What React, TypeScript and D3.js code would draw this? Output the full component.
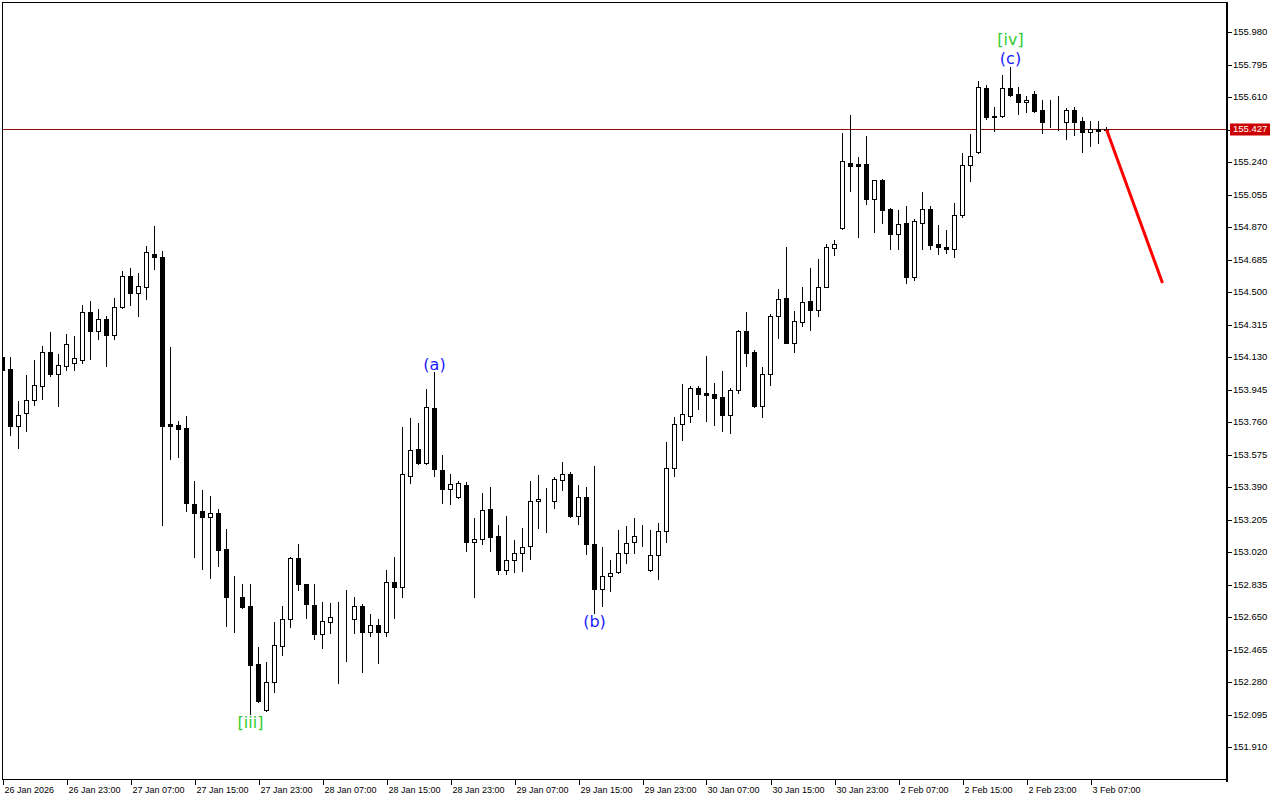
import React from "react";
import * as d3 from "d3";

const open = [
  154.132, 154.064, 153.741, 153.815, 153.887, 153.968, 154.159, 154.037, 154.082, 154.099,
  154.113, 154.386, 154.282, 154.346, 154.259, 154.415, 154.593, 154.498, 154.529, 154.718,
  154.701, 153.751, 153.745, 153.728, 153.295, 153.257, 153.223, 153.244, 153.039, 152.766,
  152.764, 152.715, 152.384, 152.121, 152.280, 152.488, 152.639, 152.986, 152.838, 152.719,
  152.557, 152.625, 152.642, 152.642, 152.639, 152.713, 152.568, 152.605, 152.568, 152.849,
  152.824, 153.456, 153.608, 153.527, 153.840, 153.489, 153.379, 153.333, 153.403, 153.081,
  153.094, 153.265, 153.113, 152.921, 152.975, 153.015, 153.054, 153.310, 153.320, 153.310,
  153.430, 153.464, 153.225, 153.333, 153.066, 152.810, 152.884, 152.906, 153.015, 153.077,
  153.107, 152.918, 153.003, 153.140, 153.498, 153.749, 153.798, 153.954, 153.927, 153.921,
  153.902, 153.803, 153.942, 154.280, 154.159, 153.855, 154.037, 154.364, 154.466, 154.213,
  154.329, 154.449, 154.398, 154.532, 154.754, 154.864, 155.236, 155.229, 155.231, 155.033,
  155.139, 154.974, 154.834, 154.893, 154.589, 154.893, 154.974, 154.773, 154.760, 154.748,
  154.938, 155.223, 155.297, 155.661, 155.500, 155.502, 155.661, 155.627, 155.582, 155.627,
  155.538, 155.468, 155.468, 155.468, 155.538, 155.474, 155.411, 155.428, 155.425,
];

const high = [
  154.143, 154.134, 153.881, 154.029, 154.115, 154.194, 154.272, 154.147, 154.261, 154.251,
  154.428, 154.451, 154.405, 154.365, 154.466, 154.621, 154.640, 154.612, 154.764, 154.878,
  154.735, 154.191, 153.768, 153.796, 153.426, 153.375, 153.341, 153.265, 153.153, 152.884,
  152.838, 152.838, 152.481, 152.396, 152.622, 152.715, 152.992, 153.067, 152.840, 152.838,
  152.736, 152.730, 152.736, 152.806, 152.766, 152.724, 152.667, 152.641, 152.919, 152.993,
  153.733, 153.783, 153.758, 153.950, 154.048, 153.574, 153.466, 153.426, 153.419, 153.214,
  153.356, 153.392, 153.176, 153.227, 153.088, 153.157, 153.426, 153.458, 153.386, 153.447,
  153.532, 153.476, 153.402, 153.390, 153.510, 153.049, 152.975, 153.145, 153.168, 153.214,
  153.174, 153.145, 153.185, 153.646, 153.789, 153.976, 153.967, 153.967, 154.138, 153.984,
  154.052, 153.954, 154.286, 154.388, 154.170, 154.077, 154.375, 154.517, 154.758, 154.392,
  154.530, 154.637, 154.688, 154.775, 154.798, 155.407, 155.509, 155.270, 155.390, 155.140,
  155.145, 154.982, 154.969, 154.991, 154.919, 155.071, 154.990, 154.883, 154.855, 155.007,
  155.291, 155.400, 155.703, 155.680, 155.557, 155.737, 155.781, 155.669, 155.618, 155.646,
  155.595, 155.595, 155.618, 155.548, 155.553, 155.496, 155.475, 155.475, 155.439,
];

const low = [
  154.046, 153.688, 153.616, 153.712, 153.859, 153.893, 154.025, 153.855, 154.058, 154.058,
  154.096, 154.120, 154.234, 154.082, 154.234, 154.410, 154.428, 154.365, 154.462, 154.633,
  153.176, 153.551, 153.561, 153.255, 152.993, 152.925, 152.876, 152.944, 152.602, 152.568,
  152.702, 152.098, 152.170, 152.118, 152.227, 152.437, 152.597, 152.807, 152.648, 152.524,
  152.474, 152.559, 152.278, 152.403, 152.563, 152.341, 152.545, 152.392, 152.545, 152.648,
  152.767, 153.413, 153.525, 153.525, 153.456, 153.303, 153.295, 153.331, 153.029, 152.764,
  153.069, 153.029, 152.898, 152.898, 152.906, 152.915, 152.984, 153.160, 153.137, 153.275,
  153.373, 153.223, 153.180, 153.009, 152.676, 152.716, 152.802, 152.901, 152.958, 153.015,
  153.054, 152.912, 152.867, 153.081, 153.456, 153.657, 153.764, 153.838, 153.769, 153.746,
  153.712, 153.701, 153.929, 154.082, 153.849, 153.792, 153.974, 154.242, 154.213, 154.162,
  154.310, 154.284, 154.364, 154.529, 154.711, 154.860, 155.078, 154.817, 155.003, 154.845,
  154.896, 154.748, 154.748, 154.551, 154.570, 154.748, 154.748, 154.718, 154.724, 154.703,
  154.931, 155.135, 155.295, 155.487, 155.417, 155.500, 155.619, 155.517, 155.525, 155.528,
  155.409, 155.439, 155.424, 155.375, 155.397, 155.301, 155.335, 155.352, 155.418,
];

const close = [
  154.058, 153.741, 153.802, 153.887, 153.972, 154.159, 154.035, 154.085, 154.204, 154.126,
  154.386, 154.282, 154.346, 154.259, 154.415, 154.591, 154.498, 154.536, 154.728, 154.703,
  153.741, 153.741, 153.724, 153.303, 153.246, 153.223, 153.244, 153.033, 152.767, 152.764,
  152.711, 152.380, 152.174, 152.282, 152.492, 152.639, 152.986, 152.841, 152.723, 152.557,
  152.627, 152.650, 152.642, 152.642, 152.713, 152.568, 152.605, 152.568, 152.849, 152.824,
  153.464, 153.603, 153.527, 153.846, 153.493, 153.379, 153.407, 153.413, 153.081, 153.094,
  153.259, 153.109, 152.921, 152.975, 153.015, 153.049, 153.310, 153.324, 153.320, 153.436,
  153.464, 153.225, 153.333, 153.066, 152.810, 152.884, 152.901, 153.015, 153.071, 153.113,
  153.109, 153.003, 153.140, 153.498, 153.749, 153.806, 153.954, 153.923, 153.917, 153.900,
  153.803, 153.942, 154.280, 154.156, 153.855, 154.033, 154.364, 154.460, 154.213, 154.335,
  154.443, 154.398, 154.533, 154.758, 154.773, 155.246, 155.221, 155.221, 155.033, 155.138,
  154.970, 154.834, 154.887, 154.589, 154.904, 154.973, 154.771, 154.756, 154.748, 154.938,
  155.223, 155.274, 155.667, 155.500, 155.502, 155.661, 155.625, 155.582, 155.595, 155.534,
  155.468, 155.468, 155.468, 155.538, 155.468, 155.411, 155.428, 155.417, 155.427,
];

// one label every 8 hourly bars, starting at bar 0
const timeLabels = [
  "26 Jan 2026", "26 Jan 23:00", "27 Jan 07:00", "27 Jan 15:00", "27 Jan 23:00",
  "28 Jan 07:00", "28 Jan 15:00", "28 Jan 23:00", "29 Jan 07:00", "29 Jan 15:00",
  "29 Jan 23:00", "30 Jan 07:00", "30 Jan 15:00", "30 Jan 23:00", "2 Feb 07:00",
  "2 Feb 15:00", "2 Feb 23:00", "3 Feb 07:00",
];
const barsPerLabel = 8;

const priceTicks = [
  155.98, 155.795, 155.61, 155.425, 155.24, 155.055, 154.87, 154.685, 154.5, 154.315,
  154.13, 153.945, 153.76, 153.575, 153.39, 153.205, 153.02, 152.835, 152.65, 152.465,
  152.28, 152.095, 151.91,
];

const currentPrice = 155.427;

const projectionIdx = [138, 145];
const projectionPrice = [155.427, 154.553];

const waveText = ["[iii]", "(a)", "(b)", "(c)", "[iv]"];
const waveIdx = [31, 54, 74, 126, 126];
const wavePrice = [152.02, 154.058, 152.595, 155.8, 155.908];
const waveColor = ["#32cd32", "#1a1aff", "#1a1aff", "#1a1aff", "#32cd32"];

export default function App() {
  const W = 1280;
  const H = 800;
  const plotL = 2;
  const plotT = 2;
  const plotR = 1227;
  const plotB = 779;

  const x = d3.scaleLinear().domain([0, 138]).range([2.5, 1106.5]);
  const y = d3.scaleLinear().domain([151.91, 155.98]).range([747.3, 32.3]);

  const axisFont = "'Liberation Sans', Arial, sans-serif";
  const waveFont = "'DejaVu Sans', Verdana, sans-serif";

  const line = d3
    .line<number>()
    .x((d) => x(projectionIdx[d]))
    .y((d) => y(projectionPrice[d]));

  const curY = Math.round(y(currentPrice)) + 0.5;

  return (
    <svg
      width={W}
      height={H}
      viewBox={`0 0 ${W} ${H}`}
      style={{ position: "absolute", left: 0, top: 0, display: "block", background: "#fff" }}
    >
      <defs>
        <clipPath id="plot">
          <rect x={plotL} y={plotT} width={plotR - plotL} height={plotB - plotT} />
        </clipPath>
      </defs>
      <rect x={0} y={0} width={W} height={H} fill="#fff" />

      <g clipPath="url(#plot)">
        {/* current price line */}
        <line x1={plotL} x2={plotR} y1={curY} y2={curY} stroke="#8c1010" strokeWidth={1} />

        {/* candles */}
        <g shapeRendering="crispEdges">
          {open.map((o, i) => {
            const c = close[i];
            const cx = x(i);
            const bull = c >= o;
            const yTop = Math.round(y(Math.max(o, c))) + 0.5;
            const yBot = Math.round(y(Math.min(o, c))) + 0.5;
            const yH = Math.round(y(high[i]));
            const yL = Math.round(y(low[i])) + 1;
            return (
              <g key={i}>
                <line x1={cx} x2={cx} y1={yH} y2={yL} stroke="#000" strokeWidth={1} />
                <rect
                  x={cx - 2}
                  y={yTop}
                  width={4}
                  height={Math.max(0, yBot - yTop)}
                  fill={bull ? "#fff" : "#000"}
                  stroke="#000"
                  strokeWidth={1}
                />
              </g>
            );
          })}
        </g>

        {/* projection */}
        <path
          d={line([0, 1]) || ""}
          fill="none"
          stroke="#ff0000"
          strokeWidth={3}
          strokeLinecap="butt"
        />

        {/* wave labels */}
        {waveText.map((t, i) => (
          <text
            key={t + i}
            x={x(waveIdx[i])}
            y={y(wavePrice[i])}
            textAnchor="middle"
            fontFamily={waveFont}
            fontSize={16}
            fill={waveColor[i]}
          >
            {t}
          </text>
        ))}
      </g>

      {/* frame */}
      <line x1={plotL} x2={plotR} y1={2.5} y2={2.5} stroke="#000" strokeWidth={1} />
      <line x1={2.5} x2={2.5} y1={plotT} y2={plotB} stroke="#000" strokeWidth={1} />
      <line x1={plotL} x2={plotR + 1} y1={plotB + 0.5} y2={plotB + 0.5} stroke="#000" strokeWidth={1} />
      <line x1={plotR} x2={plotR} y1={plotT} y2={plotB + 3} stroke="#000" strokeWidth={2} />

      {/* price axis */}
      {priceTicks.map((p) => {
        const ty = Math.round(y(p)) + 0.5;
        const hidden = Math.abs(p - currentPrice) < 0.05;
        return (
          <g key={p}>
            <line x1={plotR + 1} x2={plotR + 5} y1={ty} y2={ty} stroke="#000" strokeWidth={1} />
            {!hidden && (
              <text
                x={plotR + 6}
                y={ty}
                dominantBaseline="middle"
                fontFamily={axisFont}
                fontSize={9.5}
                fill="#000"
              >
                {p.toFixed(3)}
              </text>
            )}
          </g>
        );
      })}
      <rect x={plotR + 3} y={curY - 6} width={40} height={12} fill="#cc0000" />
      <text
        x={plotR + 6}
        y={curY}
        dominantBaseline="middle"
        fontFamily={axisFont}
        fontSize={9.5}
        fill="#fff"
      >
        {currentPrice.toFixed(3)}
      </text>

      {/* time axis */}
      {timeLabels.map((t, j) => {
        const tx = Math.round(x(j * barsPerLabel)) + 0.5;
        return (
          <g key={t}>
            <line x1={tx} x2={tx} y1={plotB} y2={plotB + 6} stroke="#000" strokeWidth={1} />
            <text x={tx + 1} y={plotB + 14} fontFamily={axisFont} fontSize={9} fill="#000">
              {t}
            </text>
          </g>
        );
      })}
    </svg>
  );
}
